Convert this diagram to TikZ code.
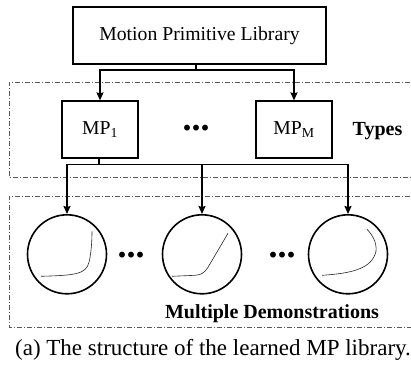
\documentclass[tikz,border=0pt]{standalone}
\usepackage{fontspec}
\setmainfont{Liberation Serif}
\usetikzlibrary{positioning,arrows.meta}

\begin{document}
\begin{tikzpicture}[
    x=1pt, y=-1pt,
    box/.style={draw, line width=1.6pt, inner sep=0pt, align=center, font=\fontsize{19.7}{22}\selectfont},
    demo/.style={draw, circle, line width=1.6pt, minimum size=79pt, inner sep=0pt},
    arrow/.style={-{Stealth[length=8pt, width=7pt, inset=1pt]}, line width=1.5pt},
    link/.style={line width=1.5pt},
    group/.style={draw=black!65, line width=0.7pt, dash pattern=on 5pt off 2pt on 1pt off 2pt},
    label/.style={font=\bfseries\fontsize{20}{22}\selectfont, anchor=base},
    dots/.style={font=\bfseries\fontsize{36}{38}\selectfont, inner sep=0pt},
    trace/.style={line width=0.6pt, black!85}
]
\useasboundingbox (0,0) rectangle (411,369);

% Groups
\draw[group] (420,82) -- (9,82) -- (9,177) -- (420,177);
\draw[group] (420,196) -- (9,196) -- (9,327) -- (420,327);

% Library and types
\node[box, minimum width=253pt, minimum height=57pt] (lib) at (199.5,35.7) {Motion Primitive Library};
\node[box, minimum width=76pt, minimum height=57pt] (mp1) at (100,129.7) {MP\textsubscript{1}};
\node[box, minimum width=76pt, minimum height=57pt] (mpm) at (294,129.7) {MP\textsubscript{M}};
\node[dots] (tdots) at (196,128) {...};
\node[label] (types) at (377.5,135.5) {Types};

% Demonstrations
\node[demo] (d1) at (67,254.3) {};
\node[demo] (d2) at (202,254.3) {};
\node[demo] (d3) at (348,254.3) {};
\node[dots] (ddots1) at (131,255) {...};
\node[dots] (ddots2) at (282,255) {...};
\node[label] (multi) at (272,318.3) {Multiple Demonstrations};

% Caption
\node[anchor=base, font=\fontsize{23}{26}\selectfont] (cap) at (213,355) {(a) The structure of the learned MP library.};

% Arrows - library to types
\coordinate (split) at (196,70);
\draw[link] (split |- lib.south) -- (split);
\draw[arrow] (split) -| (mp1.north);
\draw[arrow] (split) -| (mpm.north);

% Arrows - type to demonstrations
\coordinate (split2) at (99,164.3);
\draw[link] (split2 |- mp1.south) -- (split2);
\draw[arrow] (split2) -| (d1.north);
\draw[arrow] (split2) -| (d2.north);
\draw[arrow] (split2) -| (d3.north);

% Traces
\begin{scope}[shift={(67,254.3)}]
    \draw[trace] (-26,22) .. controls (8,21) and (19,20) .. (22,8) .. controls (24,0) and (25,-12) .. (25,-23);
\end{scope}
\begin{scope}[shift={(202,254.3)}]
    \draw[trace] (-30,22) -- (-7,21) .. controls (-1,20.5) and (2,19) .. (6,13) -- (26,-21);
\end{scope}
\begin{scope}[shift={(348,254.3)}]
    \draw[trace] (-26,21) .. controls (5,19) and (24,14) .. (28,-3) .. controls (29,-12) and (24,-20) .. (19,-25);
\end{scope}

\end{tikzpicture}
\end{document}
